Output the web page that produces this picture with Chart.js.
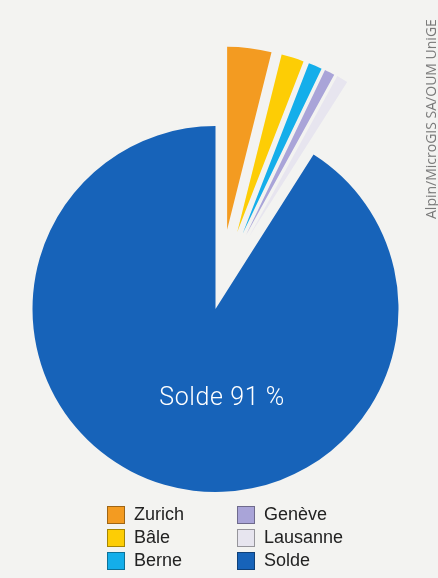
<!DOCTYPE html>
<html>
<head>
<meta charset="utf-8">
<script src="https://cdn.jsdelivr.net/npm/chart.js@4/dist/chart.umd.min.js"></script>
<style>
  html, body { margin: 0; padding: 0; }
  body { width: 438px; height: 578px; background: #f3f3f1; position: relative; overflow: hidden;
         font-family: "Liberation Sans", Arial, sans-serif; }
  #wrap { position: absolute; left: 0; top: 0; width: 438px; height: 578px; }
  #legend { position: absolute; left: 107px; top: 503px; display: grid;
            grid-template-columns: 130px 130px; grid-auto-flow: column; grid-template-rows: repeat(3, 23px); }
  .item { display: flex; align-items: center; height: 23px; font-size: 18px; color: #222; }
  .box { width: 16px; height: 16px; margin-right: 9px; border: 1px solid rgba(0,0,0,0.35); box-sizing: content-box; }
  #credit { position: absolute; left: 423px; top: 219px; line-height: 16px; transform-origin: 0 0; transform: rotate(-90deg);
            font-size: 14px; color: #7a7a7a; white-space: nowrap; font-family: "Open Sans", "Liberation Sans", sans-serif; }
</style>
</head>
<body>
<div id="wrap"><canvas id="c" width="438" height="578"></canvas></div>
<div id="legend"></div>
<div id="credit">Alpin/MicroGIS SA/OUM UniGE</div>
<script>
// ---- data ----
const categories = ['Zurich', 'Bâle', 'Berne', 'Genève', 'Lausanne', 'Solde'];
const shares = [3.9, 2.0, 1.2, 0.9, 1.0, 91];
const legendOrder = ['Zurich', 'Bâle', 'Berne', 'Genève', 'Lausanne', 'Solde'];
const mainLabel = 'Solde';
const mainLabelText = 'Solde 91 %';

// ---- style ----
const colors = ['#f39b21', '#fdcd05', '#14aeea', '#a9a4d8', '#e7e5ef', '#1763b9'];
const EXPLODE = 80;       // pixel distance small slices are pulled out
const FAN = 0.7;          // how much explode direction follows each slice's own angle
const FAN_BIAS = 0.06;    // rad

const explodePlugin = {
  id: 'explode',
  afterDatasetsUpdate(chart) {
    const meta = chart.getDatasetMeta(0);
    meta.data.forEach((arc, i) => {
      if (categories[i] === mainLabel) return;
      const mid = (arc.startAngle + arc.endAngle) / 2 + Math.PI / 2; // from top, clockwise
      const dir = FAN * mid + FAN_BIAS;
      arc.x += EXPLODE * Math.sin(dir);
      arc.y -= EXPLODE * Math.cos(dir);
    });
  }
};

const labelPlugin = {
  id: 'mainLabel',
  afterDatasetsDraw(chart) {
    const meta = chart.getDatasetMeta(0);
    const arc = meta.data[categories.indexOf(mainLabel)];
    const ctx = chart.ctx;
    ctx.save();
    ctx.fillStyle = '#ffffff';
    ctx.font = '300 25px Roboto, "Liberation Sans", sans-serif';
    if ('letterSpacing' in ctx) ctx.letterSpacing = '0.6px';
    ctx.textAlign = 'center';
    ctx.textBaseline = 'middle';
    ctx.fillText(mainLabelText, arc.x + arc.outerRadius * 0.036, arc.y + arc.outerRadius * 0.49);
    ctx.restore();
  }
};

new Chart(document.getElementById('c'), {
  type: 'pie',
  data: {
    labels: categories,
    datasets: [{
      data: shares,
      backgroundColor: colors,
      borderWidth: 0
    }]
  },
  options: {
    responsive: false,
    animation: false,
    radius: 183,
    layout: { padding: { left: 0, right: 7, top: 40, bottom: 0 } },
    plugins: { legend: { display: false }, tooltip: { enabled: false } }
  },
  plugins: [explodePlugin, labelPlugin]
});

// ---- HTML legend ----
const legend = document.getElementById('legend');
legendOrder.forEach(name => {
  const i = categories.indexOf(name);
  const item = document.createElement('div');
  item.className = 'item';
  const box = document.createElement('span');
  box.className = 'box';
  box.style.background = colors[i];
  item.appendChild(box);
  item.appendChild(document.createTextNode(name));
  legend.appendChild(item);
});
</script>
</body>
</html>
